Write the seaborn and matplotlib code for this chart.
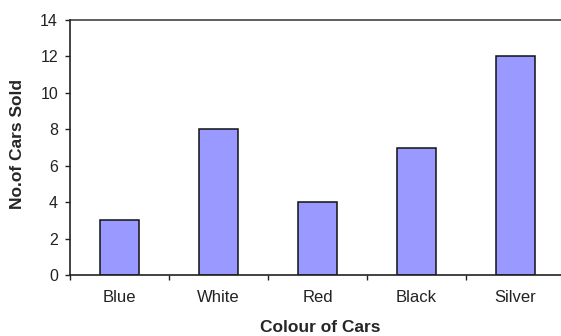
import matplotlib
matplotlib.use("Agg")
import matplotlib.pyplot as plt
import seaborn as sns
import pandas as pd
import numpy as np

colours = ["Blue", "White", "Red", "Black", "Silver"]
cars_sold = [3, 8, 4, 7, 12]
y_ticks = [0, 2, 4, 6, 8, 10, 12, 14]

sns.set_theme(style="white")
plt.rcParams["font.family"] = ["Liberation Sans", "DejaVu Sans"]

df = pd.DataFrame({"Colour": colours, "Sold": cars_sold})

fig = plt.figure(figsize=(5.61, 3.36), dpi=100)
ax = fig.add_axes([70 / 561, 1 - 275 / 336, 495 / 561, 255 / 336])

sns.barplot(data=df, x="Colour", y="Sold", color="#9999FF", saturation=1,
            width=0.4, edgecolor="#111111", linewidth=1.1, ax=ax)

ax.set_xlim(-0.5, len(colours) - 0.5)
ax.set_ylim(0, 14)
ax.set_yticks(y_ticks)
ax.tick_params(axis="y", length=3.6, width=1, color="#222222", direction="out",
               labelsize=11.5, labelcolor="#222222", pad=5, left=True)
ax.tick_params(axis="x", which="major", length=0, labelsize=12,
               labelcolor="#222222", pad=11)
ax.set_xticks(np.arange(-0.5, len(colours), 1.0), minor=True)
ax.tick_params(axis="x", which="minor", length=3.6, width=1, color="#222222",
               direction="out", bottom=True)

# top reference line at the axis maximum
ax.axhline(14, color="#444444", linewidth=1.2, clip_on=False)

for side in ["right", "top"]:
    ax.spines[side].set_visible(False)
for side in ["left", "bottom"]:
    ax.spines[side].set_color("#222222")
    ax.spines[side].set_linewidth(1.2)

ax.set_xlabel("Colour of Cars", fontsize=12.5, fontweight="bold", va="center")
ax.set_ylabel("No.of Cars Sold", fontsize=12.5, fontweight="bold", va="center")
ax.xaxis.set_label_coords((320 - 70) / 495, (275 - 328) / 255)
ax.yaxis.set_label_coords((18 - 70) / 495, (275 - 144) / 255)

fig.savefig("out.png", dpi=100)
